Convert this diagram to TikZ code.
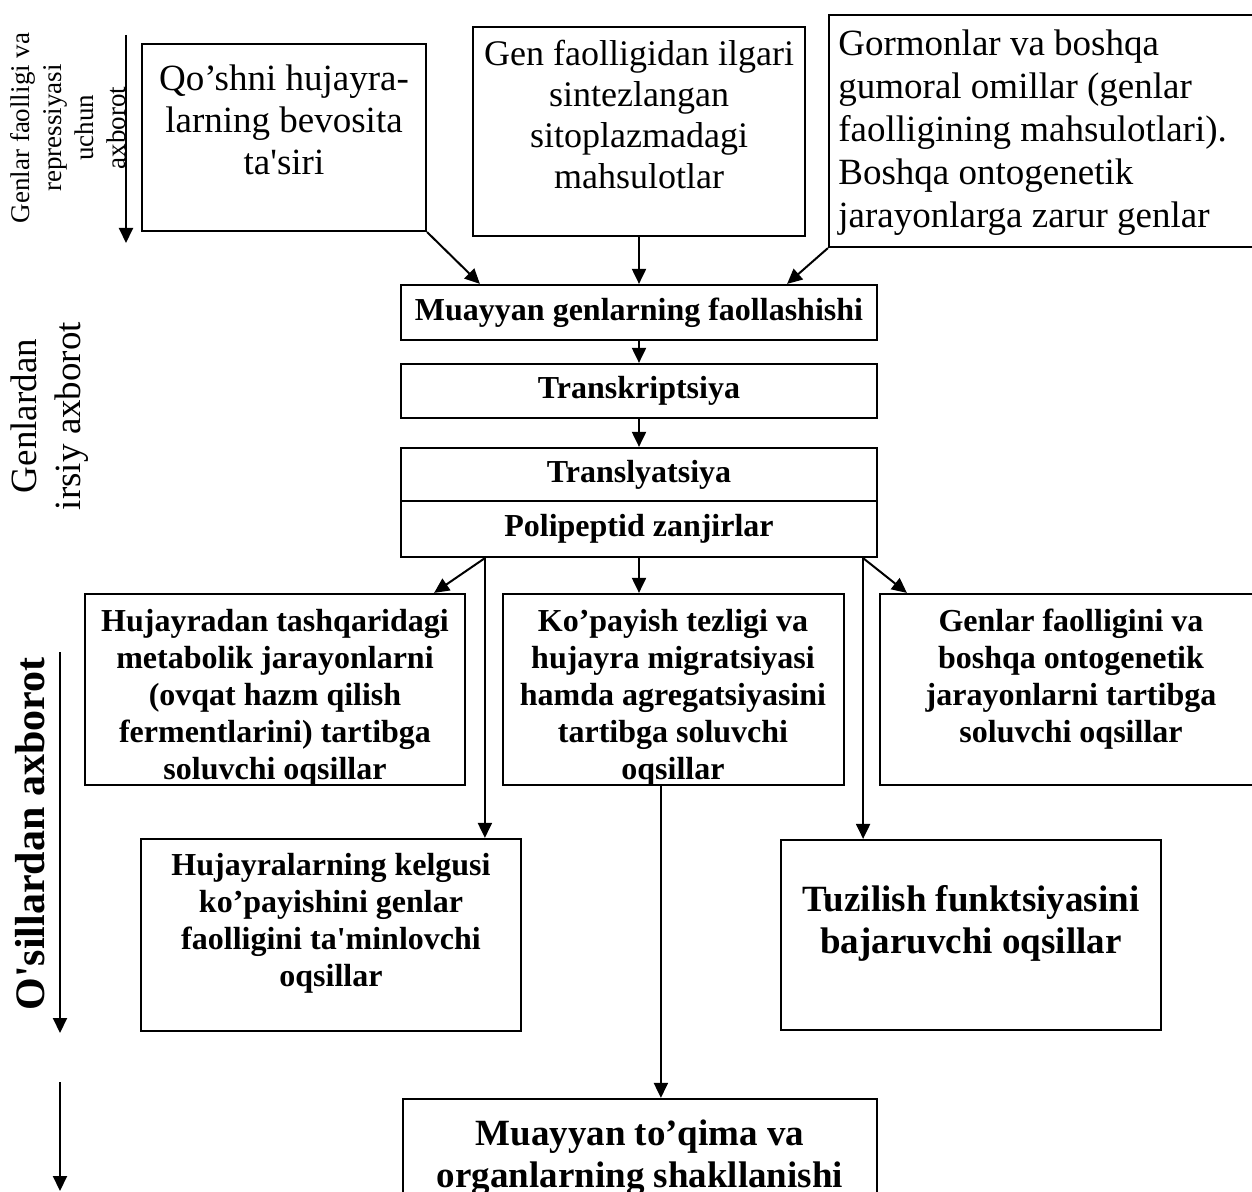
\documentclass[tikz,border=0pt]{standalone}
\usepackage{fontspec}
\setmainfont{Liberation Serif}
\usetikzlibrary{arrows.meta,calc,fit}
\newcommand{\sq}{\textquotesingle}
\begin{document}
\begin{tikzpicture}[x=0.5pt,y=-0.5pt,
  box/.style={draw,line width=1.1pt,inner sep=0pt},
  arr/.style={line width=1pt,-{Triangle[length=7.5pt,width=7pt]}},
  txt/.style={inner sep=0pt,align=center},
  regl/.style={txt,font=\fontsize{18.5}{21}\selectfont},
  bsm/.style={txt,font=\fontsize{16}{18.5}\selectfont\bfseries},
  blg/.style={txt,font=\fontsize{18.5}{21}\selectfont\bfseries}]
\useasboundingbox[fill=white] (0,0) rectangle (1252,1192);

% left labels
\node[txt,rotate=90,font=\fontsize{13.5}{16}\selectfont] (lab1) at (68,128)
  {Genlar faolligi va\\repressiyasi\\uchun\\axborot};
\coordinate (l1a) at (126,35);
\coordinate (l1b) at (126,243);
\draw[arr] (l1a) -- (l1b);
\node[txt,rotate=90,font=\fontsize{18.5}{22}\selectfont] (lab2) at (50,416)
  {Genlardan\\irsiy axborot};
\node[txt,rotate=90,font=\fontsize{21}{25}\selectfont\bfseries] (lab3) at (30,834)
  {O\sq sillardan axborot};
\coordinate (l3a) at (60,652);
\coordinate (l3b) at (60,1033);
\coordinate (l4a) at (60,1082);
\coordinate (l4b) at (60,1191);
\draw[arr] (l3a) -- (l3b);
\draw[arr] (l4a) -- (l4b);

% top boxes
\node[box,fit={(142,44) (426,231)}] (b1) {};
\node[regl,anchor=north] (b1t) at (284,64) {Qo’shni hujayra-\\larning bevosita\\ta\sq siri};
\node[box,fit={(473,27) (805,236)}] (b2) {};
\node[txt,anchor=north,font=\fontsize{18}{20.5}\selectfont] (b2t) at (639,40)
  {Gen faolligidan ilgari\\sintezlangan\\sitoplazmadagi\\mahsulotlar};
\node[box,fit={(829,15) (1275,247)}] (b3) {};
\node[txt,align=left,anchor=north west,font=\fontsize{18.5}{21.5}\selectfont] (b3t) at (838,29)
  {Gormonlar va boshqa\\gumoral omillar (genlar\\faolligining mahsulotlari).\\Boshqa ontogenetik\\jarayonlarga zarur genlar};

% central column
\node[box,fit={(401,285) (877,340)}] (muay) {};
\node[bsm] (muayt) at (muay.center) {Muayyan genlarning faollashishi};
\node[box,fit={(401,364) (877,418)}] (trk) {};
\node[bsm] (trkt) at (trk.center) {Transkriptsiya};
\node[box,fit={(401,448) (877,501)}] (trl) {};
\node[bsm] (trlt) at (trl.center) {Translyatsiya};
\node[box,fit={(401,501) (877,557)}] (poly) {};
\node[bsm] (polyt) at (poly.center) {Polipeptid zanjirlar};

\draw[arr] (b1.south east) -- ($(muay.north west)+(80,0)$);
\draw[arr] (b2.south) -- (b2.south |- muay.north);
\draw[arr] (b3.south west) -- ($(muay.north east)+(-91,0)$);
\draw[arr] (muay.south) -- (trk.north);
\draw[arr] (trk.south) -- (trl.north);

% middle row
\node[box,fit={(85,594) (465,785)}] (hjd) {};
\begin{scope}
\clip (hjd.north west) rectangle (hjd.south east);
\node[bsm,anchor=north] (hjdt) at (275,609)
  {Hujayradan tashqaridagi\\metabolik jarayonlarni\\(ovqat hazm qilish\\fermentlarini) tartibga\\soluvchi oqsillar};
\end{scope}
\node[box,fit={(503,594) (844,785)}] (kop) {};
\begin{scope}
\clip (kop.north west) rectangle (kop.south east);
\node[bsm,anchor=north] (kopt) at (673,609)
  {Ko’payish tezligi va\\hujayra migratsiyasi\\hamda agregatsiyasini\\tartibga soluvchi\\oqsillar};
\end{scope}
\node[box,fit={(880,594) (1275,785)}] (gen) {};
\node[bsm,anchor=north] (gent) at (1071,609)
  {Genlar faolligini va\\boshqa ontogenetik\\jarayonlarni tartibga\\soluvchi oqsillar};

\coordinate (p1) at ($(poly.south west)+(85,0)$);
\coordinate (p2) at ($(poly.south east)+(-15,0)$);

% lower row
\node[box,fit={(141,839) (521,1031)}] (hkel) {};
\node[bsm,anchor=north] (hkelt) at (331,853)
  {Hujayralarning kelgusi\\ko’payishini genlar\\faolligini ta\sq minlovchi\\oqsillar};
\node[box,fit={(781,840) (1161,1030)}] (tuz) {};
\node[blg,anchor=north] (tuzt) at (971,885)
  {Tuzilish funktsiyasini\\bajaruvchi oqsillar};
\node[box,fit={(403,1099) (877,1230)}] (mto) {};
\node[blg,anchor=north] (mtot) at (640,1119)
  {Muayyan to’qima va\\organlarning shakllanishi};

\draw[arr] (p1) -- ($(hjd.north east)+(-32,0)$);
\draw[arr] (p1) -- (p1 |- hkel.north);
\draw[arr] (poly.south) -- (poly.south |- kop.north);
\draw[arr] (p2) -- ($(gen.north west)+(28,0)$);
\draw[arr] (p2) -- (p2 |- tuz.north);
\coordinate (k1) at ($(kop.south west)+(159,0)$);
\draw[arr] (k1) -- (k1 |- mto.north);
\end{tikzpicture}
\end{document}
